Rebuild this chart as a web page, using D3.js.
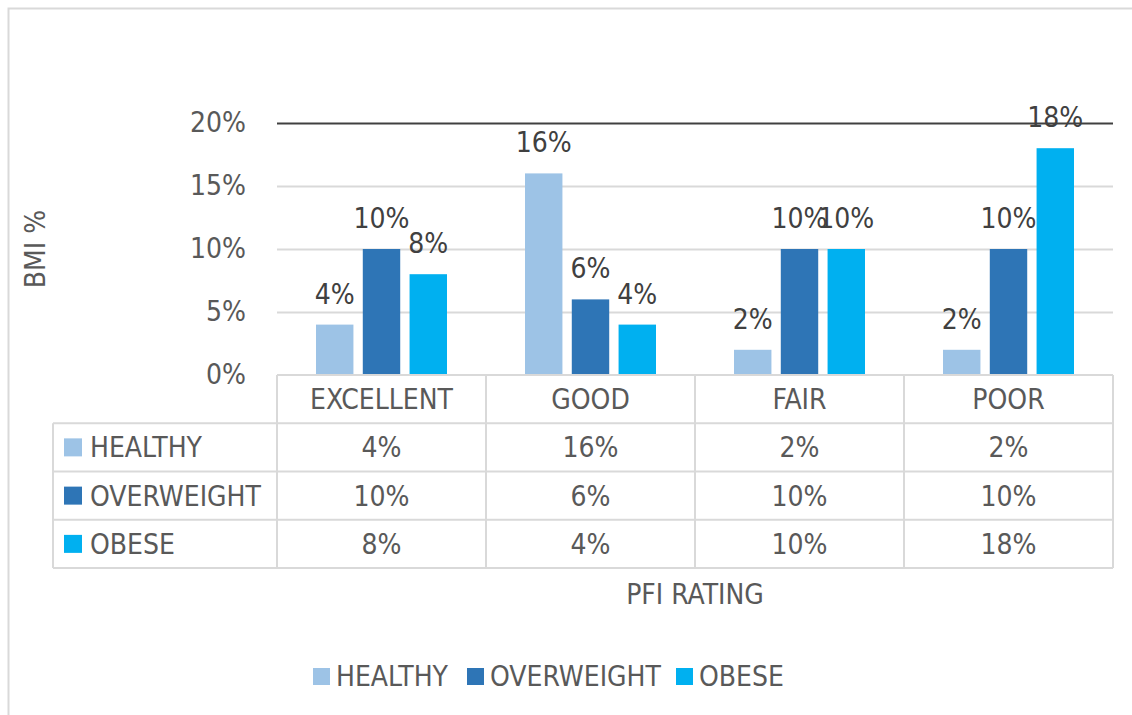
<!DOCTYPE html>
<html>
<head>
<meta charset="utf-8">
<script src="https://cdn.jsdelivr.net/npm/d3@7"></script>
<style>
  body { margin: 0; background: #fff; }
  text { font-family: "DejaVu Sans Condensed", "Liberation Sans Narrow", sans-serif; }
</style>
</head>
<body>
<div id="chart"></div>
<script>
var categories = ["EXCELLENT", "GOOD", "FAIR", "POOR"];
var series = ["HEALTHY", "OVERWEIGHT", "OBESE"];
var healthy = [0.04, 0.16, 0.02, 0.02];
var overweight = [0.10, 0.06, 0.10, 0.10];
var obese = [0.08, 0.04, 0.10, 0.18];
var yTicks = [0, 0.05, 0.10, 0.15, 0.20];
var colors = ["#9DC3E6", "#2E75B6", "#00B0F0"];

var values = [healthy, overweight, obese];
var fmt = d3.format(".0%");
var textColor = "#595959", labelColor = "#404040", gridColor = "#d9d9d9";
var fontSize = "28px";

var svg = d3.select("#chart")
    .append("svg")
    .attr("width", 1132)
    .attr("height", 715);

// chart border
svg.append("rect")
    .attr("x", 8.5)
    .attr("y", 8.5)
    .attr("width", 1140)
    .attr("height", 720)
    .attr("fill", "none")
    .attr("stroke", gridColor)
    .attr("stroke-width", 2);

var plotLeft = 277, plotRight = 1113, plotTop = 123, plotBottom = 375, tableBottom = 568;

var x = d3.scaleBand().domain(categories).range([plotLeft, plotRight]);
var xs = d3.scaleBand().domain(series).range([39, 170]).paddingInner(0.2);
var y = d3.scaleLinear().domain([0, 0.2]).range([plotBottom, plotTop]);

// gridlines + tick labels
var yAxis = svg.append("g")
    .attr("transform", "translate(" + plotLeft + ",0)")
    .call(d3.axisLeft(y).tickValues(yTicks).tickSize(-(plotRight - plotLeft)).tickPadding(31).tickFormat(fmt));
yAxis.select(".domain").remove();
yAxis.selectAll("line")
    .attr("stroke", function (d) { return d === 0.2 ? "#404040" : gridColor; })
    .attr("stroke-width", 2)
    .attr("display", function (d) { return d === 0 ? "none" : null; });
yAxis.selectAll("text")
    .attr("fill", textColor)
    .attr("font-size", fontSize)
    .attr("font-family", null);

// bars
for (var s = 0; s < series.length; s++) {
    var g = svg.append("g");
    g.selectAll("rect")
        .data(values[s])
        .enter()
        .append("rect")
        .attr("x", function (d, i) { return x(categories[i]) + xs(series[s]); })
        .attr("y", function (d) { return y(d); })
        .attr("width", xs.bandwidth())
        .attr("height", function (d) { return plotBottom - y(d); })
        .attr("fill", colors[s]);
    g.selectAll("text")
        .data(values[s])
        .enter()
        .append("text")
        .attr("x", function (d, i) { return x(categories[i]) + xs(series[s]) + xs.bandwidth() / 2; })
        .attr("y", function (d) { return y(d) - 21; })
        .attr("text-anchor", "middle")
        .attr("font-size", fontSize)
        .attr("fill", labelColor)
        .text(function (d) { return fmt(d); });
}

// data table
var tableLeft = 53;
var rowY = d3.scaleBand().domain(["head"].concat(series)).range([plotBottom, tableBottom]);
var table = svg.append("g")
    .attr("stroke", gridColor)
    .attr("stroke-width", 2);
table.append("line").attr("x1", plotLeft).attr("x2", plotRight).attr("y1", plotBottom).attr("y2", plotBottom);
series.forEach(function (sr) {
    table.append("line").attr("x1", tableLeft).attr("x2", plotRight)
        .attr("y1", rowY(sr)).attr("y2", rowY(sr));
});
table.append("line").attr("x1", tableLeft).attr("x2", plotRight).attr("y1", tableBottom).attr("y2", tableBottom);
categories.forEach(function (c) {
    table.append("line").attr("x1", x(c)).attr("x2", x(c)).attr("y1", plotBottom).attr("y2", tableBottom);
});
table.append("line").attr("x1", plotRight).attr("x2", plotRight).attr("y1", plotBottom).attr("y2", tableBottom);
table.append("line").attr("x1", tableLeft).attr("x2", tableLeft).attr("y1", rowY(series[0])).attr("y2", tableBottom);

// header labels
svg.append("g").selectAll("text")
    .data(categories)
    .enter()
    .append("text")
    .attr("x", function (d) { return x(d) + x.bandwidth() / 2; })
    .attr("y", rowY("head") + rowY.bandwidth() / 2 + 10)
    .attr("text-anchor", "middle")
    .attr("font-size", fontSize)
    .attr("fill", textColor)
    .text(function (d) { return d; });

// row labels and values
series.forEach(function (sr, s) {
    var cy = rowY(sr) + rowY.bandwidth() / 2;
    svg.append("rect")
        .attr("x", 64)
        .attr("y", cy - 9)
        .attr("width", 18)
        .attr("height", 18)
        .attr("fill", colors[s]);
    svg.append("text")
        .attr("x", 90)
        .attr("y", cy + 10)
        .attr("font-size", fontSize)
        .attr("fill", textColor)
        .text(sr);
    svg.append("g").selectAll("text")
        .data(values[s])
        .enter()
        .append("text")
        .attr("x", function (d, i) { return x(categories[i]) + x.bandwidth() / 2; })
        .attr("y", cy + 10)
        .attr("text-anchor", "middle")
        .attr("font-size", fontSize)
        .attr("fill", textColor)
        .text(function (d) { return fmt(d); });
});

// axis titles
svg.append("text")
    .attr("transform", "translate(45," + (plotTop + plotBottom) / 2 + ") rotate(-90)")
    .attr("text-anchor", "middle")
    .attr("font-size", fontSize)
    .attr("fill", textColor)
    .text("BMI %");
svg.append("text")
    .attr("x", 695)
    .attr("y", 604)
    .attr("text-anchor", "middle")
    .attr("font-size", fontSize)
    .attr("fill", textColor)
    .text("PFI RATING");

// legend
var legendX = [313, 467, 676];
var legend = svg.append("g");
series.forEach(function (sr, s) {
    legend.append("rect")
        .attr("x", legendX[s])
        .attr("y", 668)
        .attr("width", 17)
        .attr("height", 17)
        .attr("fill", colors[s]);
    legend.append("text")
        .attr("x", legendX[s] + 23)
        .attr("y", 686)
        .attr("font-size", fontSize)
        .attr("fill", textColor)
        .text(sr);
});
</script>
</body>
</html>
